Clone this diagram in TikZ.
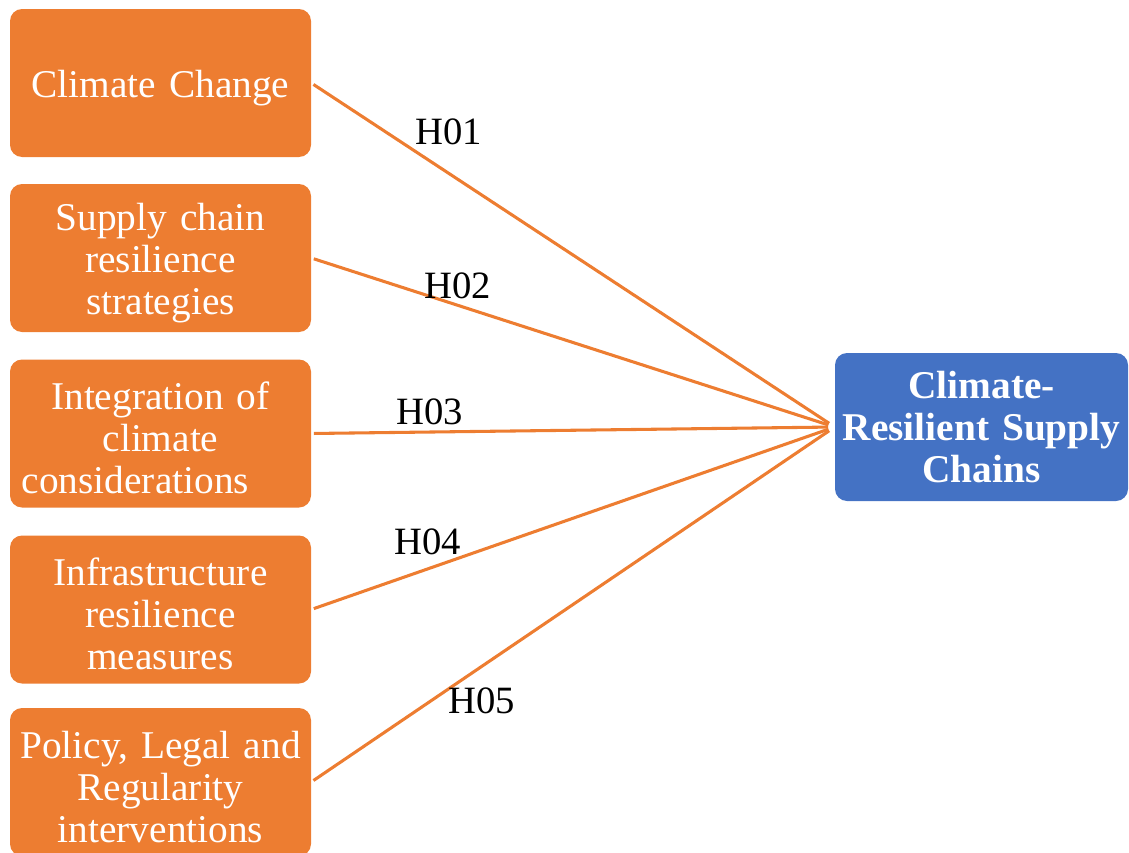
\documentclass[tikz,border=0pt]{standalone}
\usepackage{fontspec}
\setmainfont{Liberation Serif}
\definecolor{boxorange}{HTML}{ED7D31}
\definecolor{boxblue}{HTML}{4472C4}
\newcommand{\boxfont}{\fontsize{29.5}{31.5}\selectfont}
\tikzstyle{block}=[text=white, rounded corners=9pt, inner sep=0,
                   minimum height=111pt, align=center]
\tikzstyle{factor}=[block, fill=boxorange, minimum width=225.75pt,
                    text width=218pt, font=\boxfont,
                    % push the text down a little, as in the source
                    execute at begin node={\rule{0pt}{27.6pt}}]
\tikzstyle{outcome}=[block, fill=boxblue, minimum width=219.75pt,
                     text width=214pt, font=\boxfont\bfseries]
\tikzstyle{link}=[draw=boxorange, line width=2.3pt, shorten <=2pt, shorten >=5pt]
\tikzstyle{hyp}=[inner sep=0, font=\fontsize{29}{31}\selectfont]

\begin{document}
\begin{tikzpicture}[x=0.75pt, y=-0.75pt]
        \useasboundingbox (0, 0) rectangle (1129, 853);
        % independent variables
        \node[factor] (F1) at (160.5, 83) {Climate Change};
        \node[factor] (F2) at (160.5, 258) {Supply chain\\resilience\\strategies};
        \node[factor] (F3) at (160.5, 433.5) {Integration of\\climate\\\makebox[\linewidth][l]{\hspace{5pt}considerations}};
        \node[factor] (F4) at (160.5, 609.5) {Infrastructure\\resilience\\measures};
        \node[factor] (F5) at (160.5, 782) {Policy, Legal and\\Regularity\\interventions};
        % dependent variable
        \node[outcome] (CRSC) at (981.5, 427) {Climate-\\Resilient Supply\\Chains};
        \foreach \i in {1,...,5}
            \draw[link] (F\i.east) -- (CRSC.west);
        % hypotheses
        \node[hyp] (H1) at (449, 132) {H01};
        \node[hyp] (H2) at (458, 286) {H02};
        \node[hyp] (H3) at (430, 412) {H03};
        \node[hyp] (H4) at (428, 542) {H04};
        \node[hyp] (H5) at (482, 701) {H05};
    \end{tikzpicture}
\end{document}
